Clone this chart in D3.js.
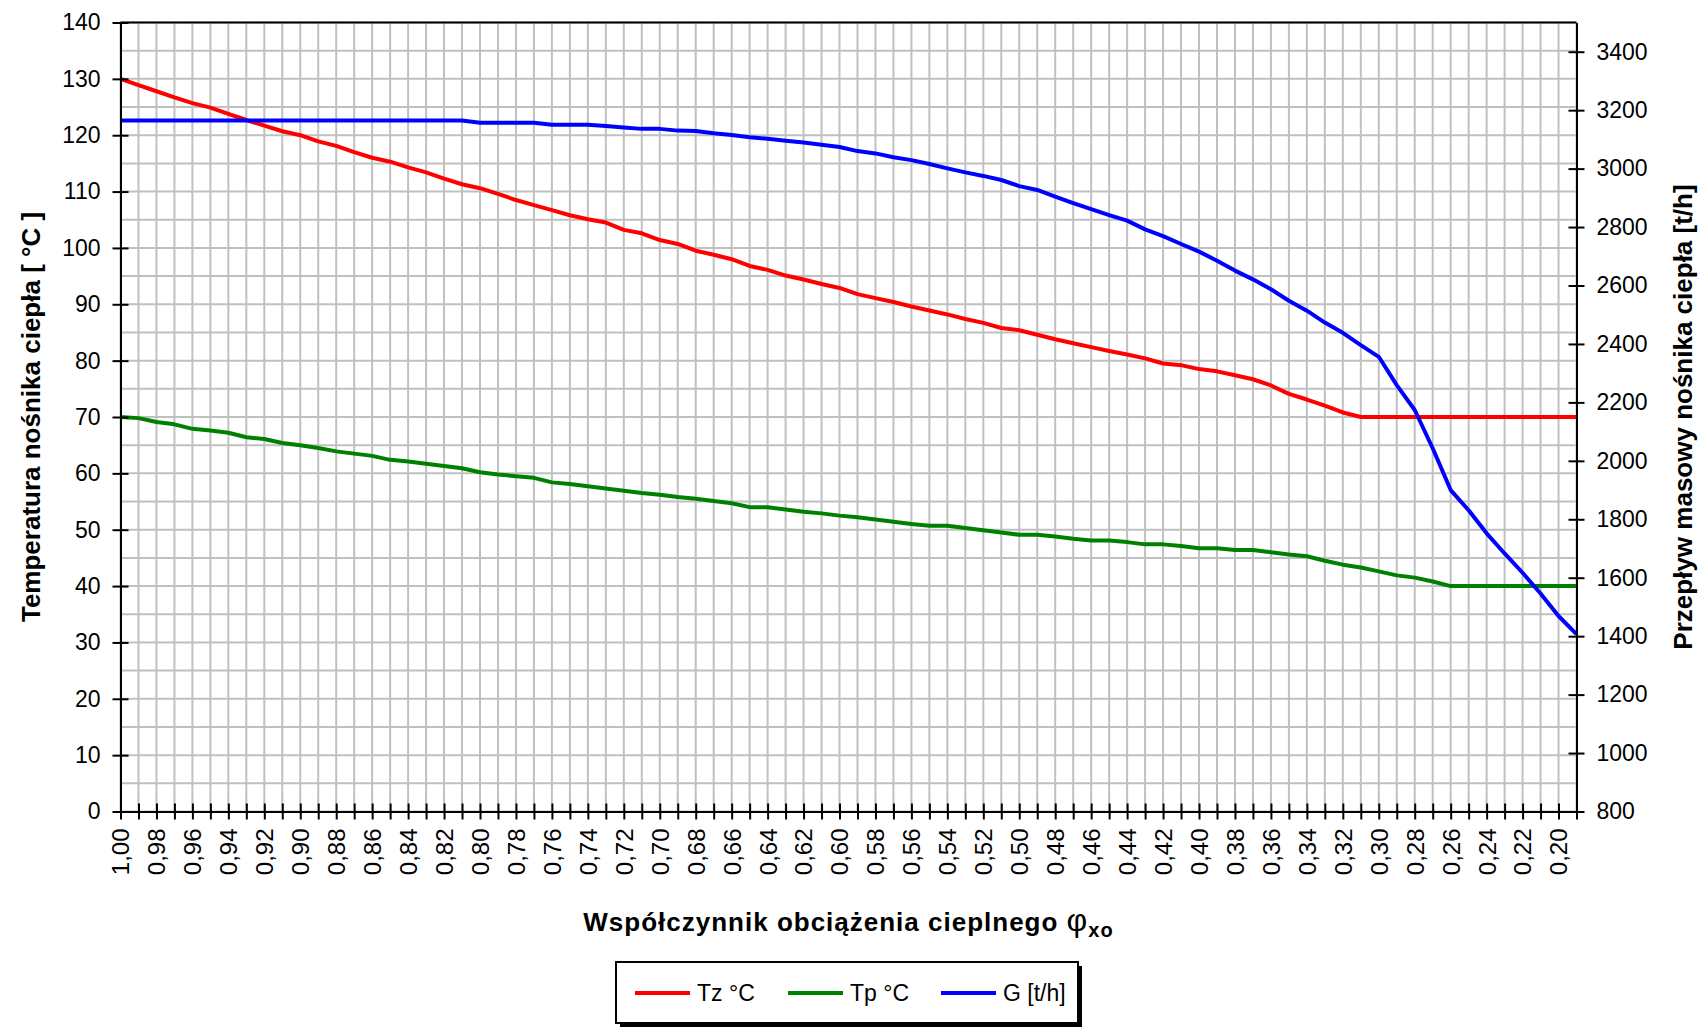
<!DOCTYPE html>
<html>
<head>
<meta charset="utf-8">
<script src="https://cdn.jsdelivr.net/npm/d3@7/dist/d3.min.js"></script>
<style>
    body { margin: 0; background: #fff; }
    svg { display: block; font-family: "Liberation Sans", Arial, sans-serif; }
</style>
</head>
<body>
<div id="body"></div>
<script>
const phi = [
    1.00, 0.99, 0.98, 0.97, 0.96, 0.95, 0.94, 0.93, 0.92, 0.91,
    0.90, 0.89, 0.88, 0.87, 0.86, 0.85, 0.84, 0.83, 0.82, 0.81,
    0.80, 0.79, 0.78, 0.77, 0.76, 0.75, 0.74, 0.73, 0.72, 0.71,
    0.70, 0.69, 0.68, 0.67, 0.66, 0.65, 0.64, 0.63, 0.62, 0.61,
    0.60, 0.59, 0.58, 0.57, 0.56, 0.55, 0.54, 0.53, 0.52, 0.51,
    0.50, 0.49, 0.48, 0.47, 0.46, 0.45, 0.44, 0.43, 0.42, 0.41,
    0.40, 0.39, 0.38, 0.37, 0.36, 0.35, 0.34, 0.33, 0.32, 0.31,
    0.30, 0.29, 0.28, 0.27, 0.26, 0.25, 0.24, 0.23, 0.22, 0.21,
    0.20, 0.19
];

// supply temperature Tz [°C]
const tz = [
    130.0, 128.9, 127.8, 126.7, 125.7, 124.9, 123.8, 122.7, 121.7, 120.7,
    120.0, 118.9, 118.1, 117.0, 116.0, 115.3, 114.3, 113.4, 112.3, 111.3,
    110.6, 109.6, 108.5, 107.6, 106.7, 105.8, 105.1, 104.5, 103.2, 102.6,
    101.4, 100.7, 99.5, 98.8, 98.0, 96.8, 96.1, 95.1, 94.4, 93.6,
    92.9, 91.8, 91.1, 90.4, 89.6, 88.9, 88.2, 87.4, 86.7, 85.8,
    85.4, 84.6, 83.8, 83.1, 82.4, 81.7, 81.1, 80.4, 79.5, 79.2,
    78.5, 78.1, 77.4, 76.7, 75.6, 74.1, 73.1, 72.0, 70.8, 70.0,
    70.0, 70.0, 70.0, 70.0, 70.0, 70.0, 70.0, 70.0, 70.0, 70.0,
    70.0, 70.0
];

// return temperature Tp [°C]
const tp = [
    70.0, 69.8, 69.1, 68.7, 67.9, 67.6, 67.2, 66.4, 66.1, 65.4,
    65.0, 64.5, 63.9, 63.5, 63.1, 62.4, 62.1, 61.7, 61.3, 60.9,
    60.2, 59.8, 59.5, 59.2, 58.4, 58.1, 57.7, 57.3, 56.9, 56.5,
    56.2, 55.8, 55.5, 55.1, 54.7, 54.0, 54.0, 53.6, 53.2, 52.9,
    52.5, 52.2, 51.8, 51.4, 51.0, 50.7, 50.7, 50.3, 49.9, 49.5,
    49.1, 49.1, 48.8, 48.4, 48.1, 48.1, 47.8, 47.4, 47.4, 47.1,
    46.7, 46.7, 46.4, 46.4, 46.0, 45.6, 45.3, 44.5, 43.8, 43.3,
    42.6, 41.9, 41.5, 40.8, 40.0, 40.0, 40.0, 40.0, 40.0, 40.0,
    40.0, 40.0
];

// mass flow G [t/h], right axis
const g = [
    3165, 3165, 3165, 3165, 3165, 3165, 3165, 3165, 3165, 3165,
    3165, 3165, 3165, 3165, 3165, 3165, 3165, 3165, 3165, 3165,
    3157, 3157, 3157, 3157, 3150, 3150, 3150, 3146, 3141, 3136,
    3136, 3130, 3129, 3121, 3115, 3107, 3102, 3095, 3089, 3082,
    3074, 3060, 3052, 3039, 3029, 3016, 3001, 2987, 2975, 2961,
    2940, 2927, 2904, 2882, 2861, 2841, 2822, 2792, 2769, 2742,
    2716, 2685, 2651, 2621, 2587, 2548, 2514, 2473, 2438, 2396,
    2356, 2259, 2174, 2043, 1900, 1831, 1752, 1683, 1617, 1546,
    1469, 1407
];

const seriesNames = ['Tz\u00a0°C', 'Tp\u00a0°C', 'G [t/h]'];
const seriesColors = ['#ff0000', '#008000', '#0000ff'];

const W = 1698, H = 1028;
const box = {left: 120.5, right: 1576.5, top: 22.5, bottom: 811.5};

function chart() {
    chart.svg();
    chart.scales();
    chart.grid();
    chart.lines();
    chart.axes();
    chart.titles();
    chart.legend();
}

chart.svg = function () {
    chart.root = d3.select('#body').append('svg')
        .attr('width', W)
        .attr('height', H);
    chart.root.append('rect')
        .attr('width', W).attr('height', H).attr('fill', '#fff');
};

chart.scales = function () {
    chart.x = d3.scalePoint().domain(phi).range([box.left, box.right]);
    chart.yL = d3.scaleLinear().domain([0, 140]).range([box.bottom, box.top]);
    chart.yR = d3.scaleLinear().domain([800, 3500]).range([box.bottom, box.top]);
};

chart.grid = function () {
    let grid = chart.root.append('g')
        .attr('stroke', '#c0c0c0')
        .attr('stroke-width', 2);
    grid.selectAll('.vx').data(phi).enter().append('line')
        .attr('x1', d => chart.x(d)).attr('x2', d => chart.x(d))
        .attr('y1', box.top).attr('y2', box.bottom);
    grid.selectAll('.hy').data(d3.range(0, 141, 5)).enter().append('line')
        .attr('x1', box.left).attr('x2', box.right)
        .attr('y1', d => chart.yL(d)).attr('y2', d => chart.yL(d));
};

chart.lines = function () {
    let line = (scale) => d3.line()
        .x((d, i) => chart.x(phi[i]))
        .y(d => scale(d));
    let series = [
        {values: tz, scale: chart.yL},
        {values: tp, scale: chart.yL},
        {values: g, scale: chart.yR}
    ];
    series.forEach(function (s, k) {
        chart.root.append('path')
            .attr('d', line(s.scale)(s.values))
            .attr('fill', 'none')
            .attr('stroke', seriesColors[k])
            .attr('stroke-width', 4)
            .attr('stroke-linejoin', 'round');
    });
};

chart.axes = function () {
    let style = function (g) {
        g.select('.domain').attr('stroke', '#000').attr('stroke-width', 2);
        g.selectAll('.tick line').attr('stroke', '#000').attr('stroke-width', 2);
        g.selectAll('.tick text')
            .attr('fill', '#000')
            .attr('font-size', 23)
            .attr('font-family', '"Liberation Sans", Arial, sans-serif');
    };

    // frame on top
    chart.root.append('line')
        .attr('x1', box.left).attr('x2', box.right)
        .attr('y1', box.top).attr('y2', box.top)
        .attr('stroke', '#000').attr('stroke-width', 2);

    let xAxis = d3.axisBottom(chart.x)
        .tickSizeOuter(0)
        .tickFormat((d, i) => i % 2 ? '' : d.toFixed(2).replace('.', ','));
    let gx = chart.root.append('g')
        .attr('transform', `translate(0,${box.bottom})`)
        .call(xAxis)
        .call(style);
    gx.selectAll('.tick line').attr('y1', -8).attr('y2', 8);
    gx.selectAll('.tick text')
        .attr('transform', 'rotate(-90)')
        .attr('text-anchor', 'end')
        .attr('x', -17).attr('y', 0).attr('dy', '0.35em')
        .attr('font-size', 24);

    let gl = chart.root.append('g')
        .attr('transform', `translate(${box.left},0)`)
        .call(d3.axisLeft(chart.yL).tickValues(d3.range(0, 141, 10)).tickSizeOuter(0))
        .call(style);
    gl.selectAll('.tick line').attr('x1', -8).attr('x2', 8);
    gl.selectAll('.tick text').attr('x', -20);

    let gr = chart.root.append('g')
        .attr('transform', `translate(${box.right},0)`)
        .call(d3.axisRight(chart.yR)
            .tickValues(d3.range(800, 3401, 200))
            .tickFormat(d3.format('d'))
            .tickSizeOuter(0))
        .call(style);
    gr.selectAll('.tick line').attr('x1', -8).attr('x2', 8);
    gr.selectAll('.tick text').attr('x', 20);
};

chart.titles = function () {
    let midY = (box.top + box.bottom) / 2;
    chart.root.append('text')
        .attr('transform', `translate(40,${midY}) rotate(-90)`)
        .attr('text-anchor', 'middle')
        .attr('font-weight', 'bold')
        .attr('font-size', 26)
        .text('Temperatura nośnika ciepła [ °C ]');

    chart.root.append('text')
        .attr('transform', `translate(1692,${midY}) rotate(-90)`)
        .attr('text-anchor', 'middle')
        .attr('font-weight', 'bold')
        .attr('font-size', 26)
        .text('Przepływ masowy nośnika ciepła [t/h]');

    let xt = chart.root.append('text')
        .attr('x', (box.left + box.right) / 2)
        .attr('y', 931)
        .attr('text-anchor', 'middle')
        .attr('font-weight', 'bold')
        .attr('font-size', 26)
        .attr('letter-spacing', 1);
    xt.append('tspan').text('Współczynnik obciążenia cieplnego ');
    xt.append('tspan')
        .attr('font-weight', 'normal')
        .attr('font-size', 32)
        .text('φ');
    xt.append('tspan')
        .attr('font-size', 20)
        .attr('dy', 6)
        .text('xo');
};

chart.legend = function () {
    let lg = {x: 616, y: 962, w: 462, h: 61};
    let legend = chart.root.append('g');
    legend.append('rect')
        .attr('x', lg.x + 4).attr('y', lg.y + 4)
        .attr('width', lg.w).attr('height', lg.h)
        .attr('fill', '#000');
    legend.append('rect')
        .attr('x', lg.x).attr('y', lg.y)
        .attr('width', lg.w).attr('height', lg.h)
        .attr('fill', '#fff')
        .attr('stroke', '#000')
        .attr('stroke-width', 2);

    let item = legend.selectAll('.item').data(seriesNames).enter().append('g')
        .attr('transform', (d, i) => `translate(${lg.x + 19 + i * 153},${lg.y + 31})`);
    item.append('line')
        .attr('x1', 0).attr('x2', 55)
        .attr('stroke', (d, i) => seriesColors[i])
        .attr('stroke-width', 4);
    item.append('text')
        .attr('x', 62).attr('dy', '0.35em')
        .attr('font-size', 23)
        .text(d => d);
};

chart();
</script>
</body>
</html>
